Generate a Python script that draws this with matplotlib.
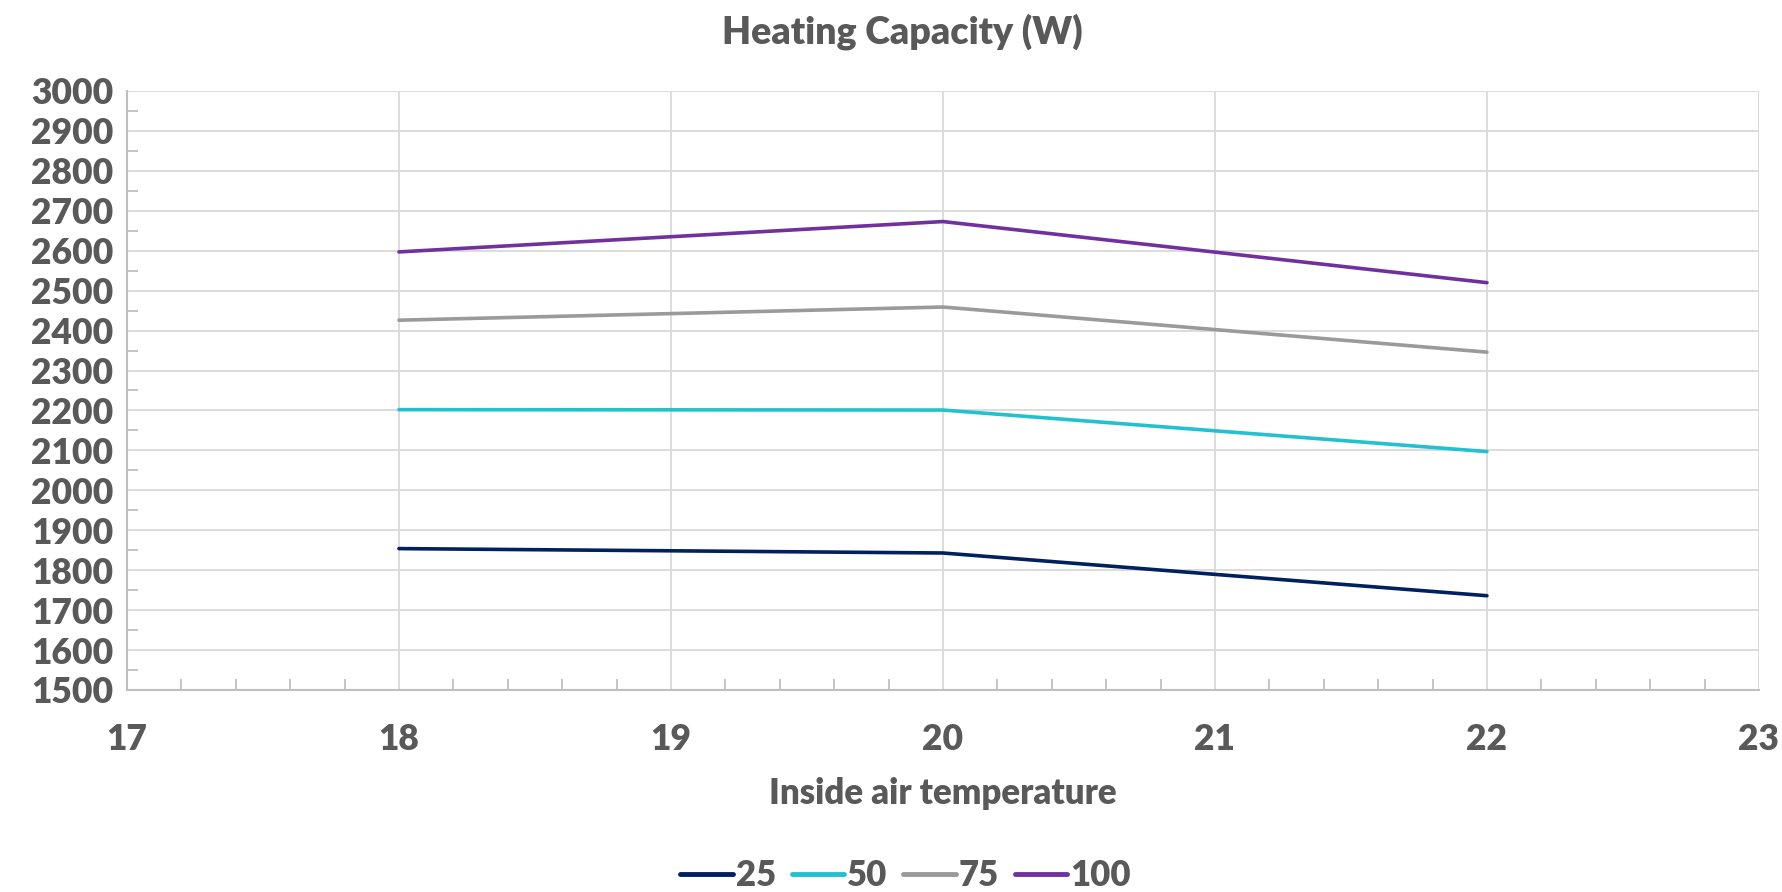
import matplotlib.pyplot as plt
from matplotlib.ticker import MultipleLocator

# --- Data ---
temps = [18, 20, 22]
labels = ['25', '50', '75', '100']
cap_25 = [1854, 1843, 1736]
cap_50 = [2202, 2201, 2097]
cap_75 = [2426, 2459, 2346]
cap_100 = [2597, 2673, 2520]
colors = ['#002060', '#22C1D0', '#9A9A9A', '#7030A0']

plt.rcParams['font.family'] = ['Lato', 'DejaVu Sans']
txt = '#595959'
wt = 'heavy'

fig = plt.figure(figsize=(17.83, 8.92), dpi=100)
ax = fig.add_axes([0.0712, 0.2265, 0.9153, 0.6715])

for vals, lab, c in zip([cap_25, cap_50, cap_75, cap_100], labels, colors):
    ax.plot(temps, vals, color=c, linewidth=2.6, label=lab, solid_capstyle='round', zorder=3)

# --- Axes ---
ax.set_xlim(17, 23)
ax.set_ylim(1500, 3000)
ax.xaxis.set_major_locator(MultipleLocator(1))
ax.xaxis.set_minor_locator(MultipleLocator(0.2))
ax.yaxis.set_major_locator(MultipleLocator(100))
ax.yaxis.set_minor_locator(MultipleLocator(50))
ax.grid(True, which='major', color='#D9D9D9', linewidth=1.3, zorder=0)

for s in ['top', 'right']:
    ax.spines[s].set_visible(False)
for s in ['left', 'bottom']:
    ax.spines[s].set_color('#BFBFBF')
    ax.spines[s].set_linewidth(1.5)

ax.tick_params(which='major', length=0, labelsize=25.5, labelcolor=txt)
ax.tick_params(axis='x', which='major', pad=24)
ax.tick_params(axis='y', which='major', pad=10)
ax.tick_params(which='minor', direction='in', length=8, width=1.3, color='#BFBFBF')
for t in ax.get_xticklabels() + ax.get_yticklabels():
    t.set_fontweight(wt)

ax.set_xlabel('Inside air temperature', fontsize=25, fontweight=wt, color=txt, labelpad=15)
fig.suptitle('Heating Capacity (W)', x=0.506, y=0.985, fontsize=27, fontweight=wt, color=txt)

leg = fig.legend(loc='lower center', bbox_to_anchor=(0.508, -0.035), ncol=4, frameon=False,
                 fontsize=25, handlelength=1.5, handletextpad=0.1, columnspacing=0.45)
for t in leg.get_texts():
    t.set_color(txt)
    t.set_fontweight(wt)
for h in leg.get_lines():
    h.set_linewidth(3.5)

plt.savefig('out.png', dpi=100)
